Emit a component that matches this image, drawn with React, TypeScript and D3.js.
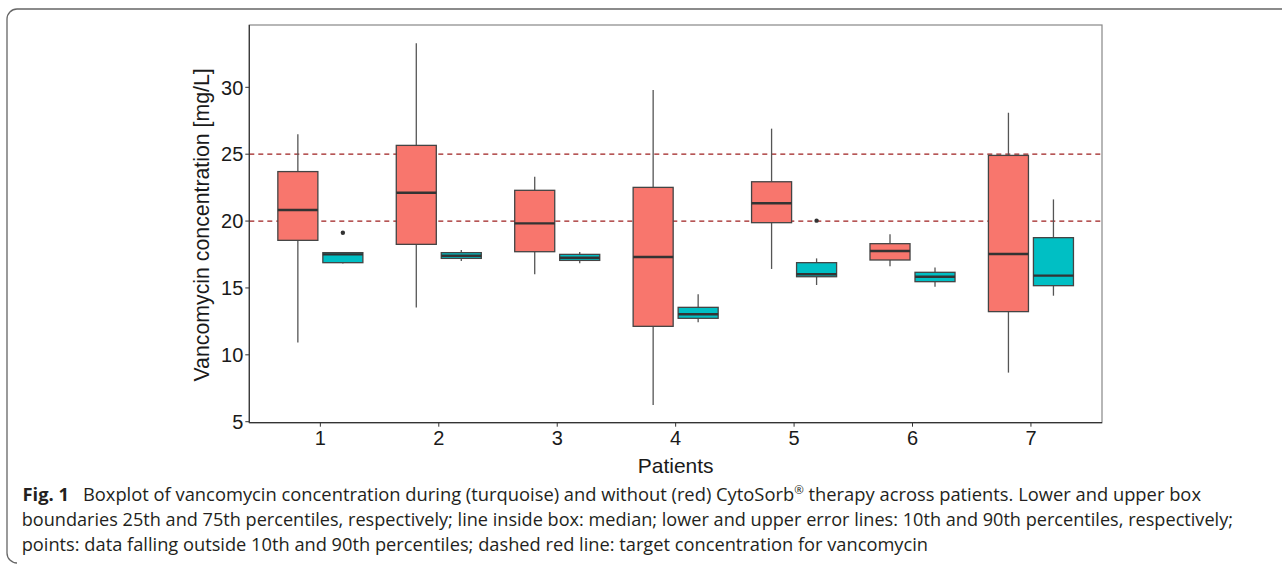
import * as d3 from 'd3'

// patients on the x axis
const patients = [1, 2, 3, 4, 5, 6, 7]
const yTicks = [5, 10, 15, 20, 25, 30]
const targetLines = [20, 25]

// without CytoSorb (red): 10th, 25th, median, 75th, 90th percentiles
const redP10 = [10.93, 13.53, 16.02, 6.25, 16.42, 16.62, 8.67]
const redQ1 = [18.56, 18.26, 17.71, 12.13, 19.88, 17.09, 13.23]
const redMed = [20.83, 22.12, 19.83, 17.31, 21.33, 17.76, 17.54]
const redQ3 = [23.7, 25.66, 22.3, 22.52, 22.94, 18.31, 24.91]
const redP90 = [26.5, 33.29, 23.32, 29.8, 26.91, 19.01, 28.1]

// during CytoSorb (turquoise)
const turqP10 = [16.83, 17.01, 16.85, 12.43, 15.22, 15.09, 14.42]
const turqQ1 = [16.89, 17.21, 17.06, 12.73, 15.84, 15.47, 15.17]
const turqMed = [17.51, 17.41, 17.26, 13.03, 16.02, 15.84, 15.92]
const turqQ3 = [17.64, 17.64, 17.51, 13.55, 16.89, 16.17, 18.76]
const turqP90 = [17.64, 17.84, 17.69, 14.52, 17.21, 16.52, 21.62]

// points outside 10th/90th percentiles
const outlierPatient = [1, 5]
const outlierValue = [19.13, 20.03]

const W = 1282
const H = 565
const left = 249.3
const right = 1102
const top = 25
const bottom = 422.7

const x = d3.scaleLinear().domain([0.4, 7.6]).range([left, right])
const y = d3.scaleLinear().domain([4.925, 34.66]).range([bottom, top])

const dodge = 0.19
const boxW = 0.338

const groups = [
  { off: -dodge, fill: '#F8766D', p10: redP10, q1: redQ1, med: redMed, q3: redQ3, p90: redP90 },
  { off: dodge, fill: '#00BFC4', p10: turqP10, q1: turqQ1, med: turqMed, q3: turqQ3, p90: turqP90 },
]

const axisFont = 'Arial, "Liberation Sans", sans-serif'
const capFont = '"Open Sans", "Noto Sans", sans-serif'

export default function App() {
  const bw = x(boxW) - x(0)
  return (
    <svg width={W} height={H} style={{ position: 'absolute', left: 0, top: 0, background: '#fff' }}>
      <rect width={W} height={H} fill="#fff" />
      {/* figure frame */}
      <path d="M1282,9 H17 A10,10 0 0 0 7,19 V553 A10,10 0 0 0 17,563" fill="none" stroke="#666" strokeWidth={1.3} />

      {/* panel border */}
      <rect x={left} y={top} width={right - left} height={bottom - top} fill="#fff" stroke="#888" strokeWidth={1.2} />

      {/* target lines */}
      {targetLines.map(v => (
        <line key={v} x1={left} x2={right} y1={y(v)} y2={y(v)} stroke="#9e1f1f" strokeWidth={1.3} strokeDasharray="5,4" />
      ))}

      {/* boxes */}
      {groups.map((g, gi) =>
        patients.map((p, i) => {
          const cx = x(p + g.off)
          return (
            <g key={`${gi}-${p}`}>
              <line x1={cx} x2={cx} y1={y(g.p90[i])} y2={y(g.q3[i])} stroke="#555" strokeWidth={1.3} />
              <line x1={cx} x2={cx} y1={y(g.q1[i])} y2={y(g.p10[i])} stroke="#555" strokeWidth={1.3} />
              <rect x={cx - bw / 2} y={y(g.q3[i])} width={bw} height={y(g.q1[i]) - y(g.q3[i])}
                fill={g.fill} stroke="#444" strokeWidth={1.3} />
              <line x1={cx - bw / 2} x2={cx + bw / 2} y1={y(g.med[i])} y2={y(g.med[i])} stroke="#333" strokeWidth={2.4} />
            </g>
          )
        })
      )}

      {outlierPatient.map((p, i) => (
        <circle key={i} cx={x(p + dodge)} cy={y(outlierValue[i])} r={2.2} fill="#333" />
      ))}

      {/* axes */}
      <line x1={left} x2={left} y1={top} y2={bottom} stroke="#333" strokeWidth={1.2} />
      <line x1={left} x2={right} y1={bottom} y2={bottom} stroke="#333" strokeWidth={1.2} />
      {yTicks.map(t => (
        <g key={t}>
          <line x1={left - 4} x2={left} y1={y(t)} y2={y(t)} stroke="#333" strokeWidth={1} />
          <text x={left - 6} y={y(t)} dy="0.36em" textAnchor="end" fontFamily={axisFont} fontSize={20} fill="#1a1a1a">{t}</text>
        </g>
      ))}
      {patients.map(p => (
        <g key={p}>
          <line x1={x(p)} x2={x(p)} y1={bottom} y2={bottom + 4} stroke="#333" strokeWidth={1} />
          <text x={x(p)} y={445} textAnchor="middle" fontFamily={axisFont} fontSize={20} fill="#1a1a1a">{p}</text>
        </g>
      ))}
      <text x={(left + right) / 2} y={472.5} textAnchor="middle" fontFamily={axisFont} fontSize={21} fill="#1a1a1a">Patients</text>
      <text transform={`translate(209,${(top + bottom) / 2 + 1}) rotate(-90)`} textAnchor="middle" fontFamily={axisFont}
        fontSize={21.3} fill="#1a1a1a">Vancomycin concentration [mg/L]</text>

      {/* caption */}
      <text x={22.5} y={501} fontFamily={capFont} fontSize={17.5} fill="#231f20" textLength={1201 - 22.5} lengthAdjust="spacingAndGlyphs">
        <tspan fontWeight="bold">Fig. 1</tspan>
        <tspan>{'\u2002 Boxplot of vancomycin concentration during (turquoise) and without (red) CytoSorb'}</tspan>
        <tspan fontSize={11} dy={-7}>®</tspan>
        <tspan dy={7}> therapy across patients. Lower and upper box</tspan>
      </text>
      <text x={21.7} y={526} fontFamily={capFont} fontSize={17.5} fill="#231f20" textLength={1233 - 21.7} lengthAdjust="spacingAndGlyphs">
        boundaries 25th and 75th percentiles, respectively; line inside box: median; lower and upper error lines: 10th and 90th percentiles, respectively;
      </text>
      <text x={21.7} y={551} fontFamily={capFont} fontSize={17.5} fill="#231f20" textLength={928 - 21.7} lengthAdjust="spacingAndGlyphs">
        points: data falling outside 10th and 90th percentiles; dashed red line: target concentration for vancomycin
      </text>
    </svg>
  )
}
